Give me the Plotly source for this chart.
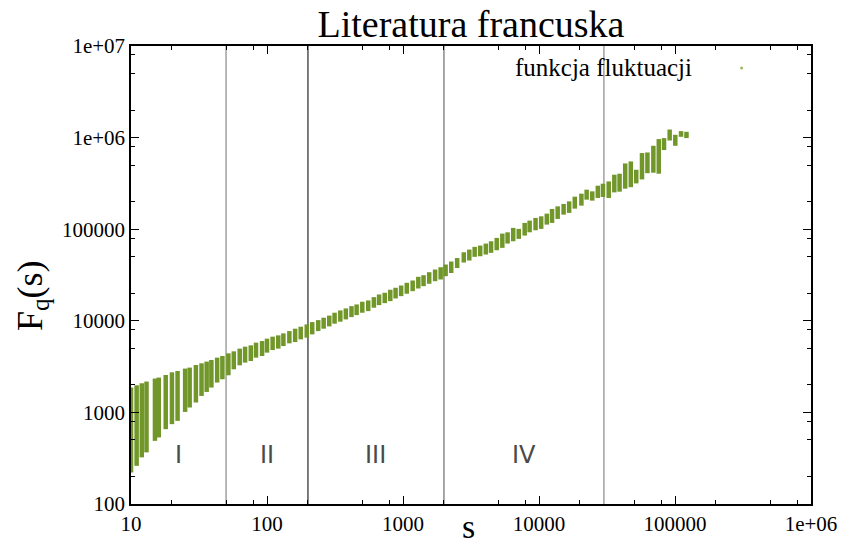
import plotly.graph_objects as go
import math

# Scale s and the spread of the fluctuation function F_q(s) over q at each scale
s_values = [
    10, 11, 12, 13, 15, 16, 18, 20, 22, 25, 27, 30, 33, 36, 39, 43, 47,
    52, 57, 63, 69, 76, 83, 92, 100, 110, 121, 132, 146, 161, 177, 196, 215,
    238, 261, 287, 314, 346, 380, 418, 456, 502, 555, 611, 667, 734, 806,
    882, 969, 1066, 1178, 1296, 1416, 1558, 1722, 1892, 2057, 2263, 2502,
    2799, 3073, 3365, 3695, 4064, 4442, 4887, 5375, 5874, 6461, 7096, 7846,
    8531, 9432, 10376, 11413, 12472, 13721, 15171, 16658, 18332, 20499,
    22403, 24644, 27065, 29530, 32549, 35801, 39124, 43031, 47328, 51899,
    57181, 62689, 69320, 75980, 83040, 91349, 100510, 110740, 121420,
]
f_upper = [
    1867, 1978, 2080, 2171, 2341, 2400, 2562, 2741, 2832, 3008, 3084, 3291,
    3435, 3585, 3732, 3963, 4126, 4415, 4642, 4968, 5223, 5395, 5774, 6011,
    6383, 6711, 6934, 7291, 7724, 8201, 8623, 9137, 9679, 10176, 10810,
    11394, 12251, 12981, 13650, 14458, 15088, 16151, 16684, 18125, 19395,
    20238, 21820, 22943, 24300, 26002, 27548, 30226, 31460, 33926, 36302,
    38459, 41159, 44373, 48441, 56027, 59948, 64150, 66283, 69680, 73822,
    80394, 89565, 92513, 103322, 100763, 117128, 124113, 132797, 138226,
    147894, 166389, 177627, 188657, 201338, 226521, 244305, 270149, 258879,
    298464, 313796, 332467, 393355, 403355, 522393, 549282, 445891, 678140,
    688366, 814195, 963180, 987645, 1225000, 1073000, 1177000, 1157000,
]
f_lower = [
    221, 261, 323, 366, 489, 533, 656, 744, 808, 1012, 1131, 1282, 1512,
    1672, 1867, 2117, 2300, 2542, 2955, 3267, 3496, 3639, 3963, 4126, 4493,
    4795, 4968, 5302, 5674, 5862, 6272, 6546, 7111, 7724, 8201, 8690, 9299,
    9777, 10358, 10972, 11538, 12251, 12756, 13890, 14825, 15589, 16394,
    17539, 18582, 19737, 21063, 22541, 23878, 25361, 27069, 28249, 30682,
    33247, 37703, 43274, 45499, 49924, 50677, 52880, 55180, 58916, 62560,
    69680, 73822, 78400, 85174, 92513, 97275, 100763, 112240, 117128,
    129500, 144220, 150540, 167650, 180760, 210140, 204940, 219290, 224860,
    219290, 252350, 256800, 276960, 287530, 316230, 349630, 408400, 413600,
    403355, 730800, 929800, 814195, 1020000, 987645,
]

# Scaling regions
region_edges = [10, 50, 200, 2000, 30000]
region_names = ["I", "II", "III", "IV"]
boundary_colors = ["#a0a0a0", "#505050", "#8a8a8a", "#a0a0a0"]

x_ticks = [10, 100, 1000, 10000, 100000, 1000000]
x_tick_text = ["10", "100", "1000", "10000", "100000", "1e+06"]
y_ticks = [100, 1000, 10000, 100000, 1000000, 10000000]
y_tick_text = ["100", "1000", "10000", "100000", "1e+06", "1e+07"]

GREEN = "#71972a"
SERIF = "Liberation Serif, Times New Roman, serif"

xs, ys = [], []
for s, lo, hi in zip(s_values, f_lower, f_upper):
    xs += [s, s, None]
    ys += [lo, hi, None]

fig = go.Figure()
fig.add_trace(go.Scatter(
    x=xs, y=ys, mode="lines",
    line=dict(color=GREEN, width=4.5),
    name="funkcja fluktuacji", showlegend=False, hoverinfo="skip",
))

shapes = []
for edge, col in zip(region_edges[1:], boundary_colors):
    shapes.append(dict(type="line", xref="x", yref="paper",
                       x0=edge, x1=edge, y0=0, y1=1,
                       line=dict(color=col, width=1.5), layer="below"))
# legend sample
shapes.append(dict(type="circle", xref="paper", yref="paper",
                   xsizemode="pixel", ysizemode="pixel",
                   xanchor=0.898, yanchor=0.952,
                   x0=-1.5, x1=1.5, y0=-1.5, y1=1.5,
                   fillcolor="#9dbb5a", line=dict(width=0)))

annotations = []
for i, name in enumerate(region_names):
    xc = 0.5 * (math.log10(region_edges[i]) + math.log10(region_edges[i + 1]))
    annotations.append(dict(x=xc, y=0.1068, xref="x", yref="paper",
                            text=name, showarrow=False,
                            font=dict(family="DejaVu Sans, sans-serif",
                                      size=24, color="#4a4a4a"),
                            xanchor="center", yanchor="middle"))
annotations.append(dict(x=0.828, y=0.952, xref="paper", yref="paper",
                        text="funkcja fluktuacji", showarrow=False,
                        xanchor="right", yanchor="middle",
                        font=dict(family=SERIF, size=25, color="black")))
annotations.append(dict(x=-0.145, y=0.455, xref="paper", yref="paper",
                        text="F<sub>q</sub>(s)", showarrow=False, textangle=-90,
                        xanchor="center", yanchor="middle",
                        font=dict(family=SERIF, size=36, color="black")))
annotations.append(dict(x=0.497, y=-0.0937, xref="paper", yref="paper",
                        text="s", showarrow=False,
                        xanchor="center", yanchor="bottom",
                        font=dict(family=SERIF, size=34, color="black")))

minor_x = [m * 10 ** e for e in range(1, 6) for m in (2, 5, 8)]
minor_y = [m * 10 ** e for e in range(2, 7) for m in (2, 5, 8)]

axis_common = dict(
    type="log", showgrid=False, zeroline=False,
    showline=True, linecolor="black", linewidth=1.5, mirror="allticks",
    ticks="inside", ticklen=8, tickwidth=1, tickcolor="black",
    tickfont=dict(family=SERIF, size=21, color="black"),
)

fig.update_layout(
    width=849, height=548,
    margin=dict(l=131, r=32, t=46, b=43),
    paper_bgcolor="white", plot_bgcolor="white",
    title=dict(text="Literatura francuska", x=0.5, xref="paper",
               y=0.956, yref="container", xanchor="center", yanchor="middle",
               font=dict(family=SERIF, size=38, color="black")),
    xaxis=dict(axis_common, range=[1, 6], tickmode="array",
               tickvals=x_ticks, ticktext=x_tick_text,
               minor=dict(tickmode="array", tickvals=minor_x, ticks="inside",
                          ticklen=4, tickcolor="black")),
    yaxis=dict(axis_common, range=[2, 7], tickmode="array",
               tickvals=y_ticks, ticktext=y_tick_text,
               minor=dict(tickmode="array", tickvals=minor_y, ticks="inside",
                          ticklen=4, tickcolor="black")),
    shapes=shapes, annotations=annotations,
)

fig.write_html("out.html")
